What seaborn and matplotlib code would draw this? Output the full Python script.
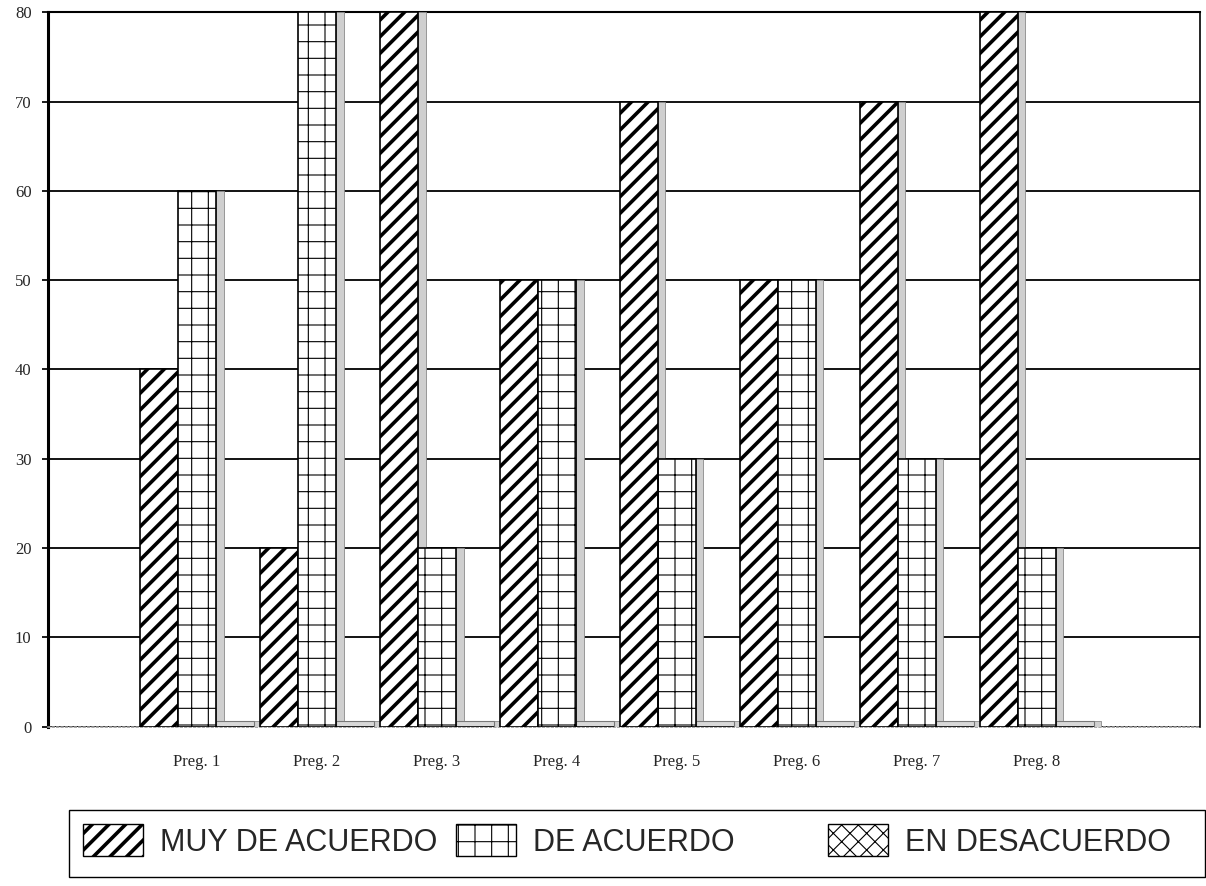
import numpy as np
import pandas as pd
import seaborn as sns
import matplotlib
matplotlib.use("Agg")
import matplotlib.pyplot as plt
from matplotlib.patches import Patch, Rectangle

categories = ["Preg. 1", "Preg. 2", "Preg. 3", "Preg. 4", "Preg. 5", "Preg. 6", "Preg. 7", "Preg. 8"]
series = ["MUY DE ACUERDO", "DE ACUERDO", "EN DESACUERDO"]
muy_de_acuerdo = [40, 20, 80, 50, 70, 50, 70, 80]
de_acuerdo = [60, 80, 20, 50, 30, 50, 30, 20]
en_desacuerdo = [0, 0, 0, 0, 0, 0, 0, 0]
y_ticks = [0, 10, 20, 30, 40, 50, 60, 70, 80]

rows = []
for s, vals in zip(series, [muy_de_acuerdo, de_acuerdo, en_desacuerdo]):
    for c, v in zip(categories, vals):
        rows.append({"Pregunta": c, "Serie": s, "Valor": v})
df = pd.DataFrame(rows)

sns.set_theme(style="white")
plt.rcParams["hatch.linewidth"] = 1.0

W, H = 1206, 886
fig = plt.figure(figsize=(W / 100, H / 100), dpi=100)
ax = fig.add_axes([0.040, 0.180, 0.955, 0.806])

hatches = {"MUY DE ACUERDO": "//", "DE ACUERDO": "+", "EN DESACUERDO": "xx"}
hatch_lw = {"MUY DE ACUERDO": 2.6, "DE ACUERDO": 0.8, "EN DESACUERDO": 0.8}
palette = {s: "white" for s in series}
sns.barplot(data=df, x="Pregunta", y="Valor", hue="Serie", hue_order=series,
            order=categories, palette=palette, width=0.95, gap=0.0,
            edgecolor="black", linewidth=1.2, legend=False, ax=ax, zorder=3)

# apply hatches per series container and add a grey 3-D side strip
for cont, s in zip(ax.containers, series):
    for bar in cont:
        bar.set_hatch(hatches[s])
        bar.set_edgecolor("black")
        try:
            bar.set_hatch_linewidth(hatch_lw[s])
        except Exception:
            pass
        x, w, h = bar.get_x(), bar.get_width(), bar.get_height()
        depth = w * 0.2
        side = Rectangle((x + w, 0), depth, max(h, 0.6), facecolor="#cfcfcf",
                         edgecolor="#8a8a8a", linewidth=0.6, zorder=2.9)
        ax.add_patch(side)
        if h == 0:
            slab = Rectangle((x, 0), w, 0.6, facecolor="#d8d8d8",
                             edgecolor="#777777", linewidth=0.8, zorder=2.9)
            ax.add_patch(slab)

ax.set_xlim(-1.24, 8.36)
ax.set_ylim(0, 80)
ax.set_yticks(y_ticks)
ax.set_yticklabels([str(t) for t in y_ticks], family="Liberation Serif", fontsize=12)
ax.set_xticks(range(len(categories)))
ax.set_xticklabels(categories, family="Liberation Serif", fontsize=12)
ax.set_xlabel("")
ax.set_ylabel("")
ax.tick_params(axis="y", length=4, color="black", left=True, pad=8)
ax.tick_params(axis="x", length=0, pad=20)

ax.yaxis.grid(True, color="black", linewidth=1.3, zorder=0)
ax.set_axisbelow(True)
for side_name in ["left", "top", "right"]:
    ax.spines[side_name].set_visible(True)
    ax.spines[side_name].set_color("black")
ax.spines["left"].set_linewidth(2.2)
ax.spines["top"].set_linewidth(1.5)
ax.spines["right"].set_linewidth(1.2)
ax.spines["bottom"].set_color("#999999")
ax.spines["bottom"].set_linestyle(":")
ax.spines["bottom"].set_linewidth(1.2)

# legend: two frameless legends inside one framed box
handles = [Patch(facecolor="white", edgecolor="black", hatch=hatches[s], label=s) for s in series]
leg_kw = dict(frameon=False, prop={"family": "Liberation Sans", "size": 22},
              handlelength=1.96, handleheight=1.24, handletextpad=0.55,
              borderpad=0.0, borderaxespad=0.0, columnspacing=0.62)
yc = 1 - 841 / H
leg1 = fig.legend(handles=handles[:2], loc="center left", bbox_to_anchor=(83 / W, yc),
                  ncol=2, **leg_kw)
leg2 = fig.legend(handles=handles[2:], loc="center left", bbox_to_anchor=(828 / W, yc),
                  ncol=1, **leg_kw)
for lg, ss in [(leg1, series[:2]), (leg2, series[2:])]:
    for lp, s in zip(lg.get_patches(), ss):
        try:
            lp.set_hatch_linewidth(hatch_lw[s])
        except Exception:
            pass
frame = Rectangle((69 / W, 1 - 877 / H), (W - 1 - 69) / W, (877 - 810) / H,
                  transform=fig.transFigure, fill=False, edgecolor="black", linewidth=1.0)
fig.add_artist(frame)

fig.savefig("out.png", dpi=100, facecolor="white")
